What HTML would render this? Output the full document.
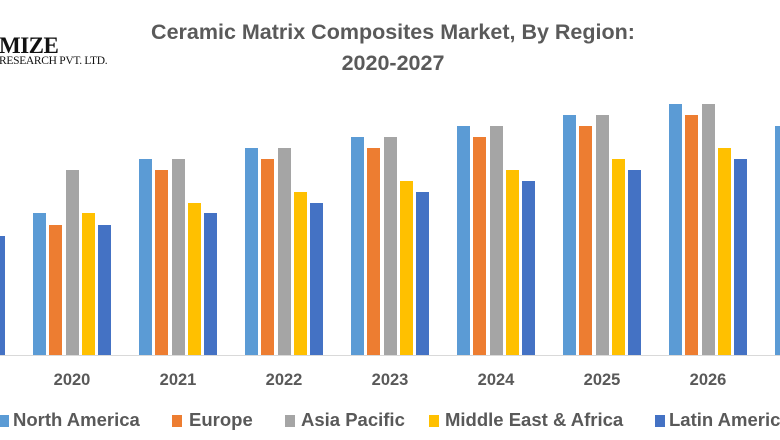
<!DOCTYPE html>
<html><head><meta charset="utf-8"><style>
body{margin:0;width:780px;height:440px;background:#fff;overflow:hidden;position:relative;font-family:"Liberation Sans",sans-serif}
.t{position:absolute;color:#595959;font-weight:bold;white-space:nowrap}
.y{font-size:16.5px;top:371px;width:80px;text-align:center}
.l{font-size:18.5px;top:409px}
.s{position:absolute;top:415px;width:10px;height:12px}
</style></head><body>
<div style="position:absolute;left:-1px;top:33px;font-family:'Liberation Serif',serif;font-weight:bold;font-size:23px;color:#111;letter-spacing:-0.5px">MIZE</div>
<div style="position:absolute;left:-1px;top:55px;font-family:'Liberation Serif',serif;font-size:11.5px;color:#111;letter-spacing:-0.3px">RESEARCH PVT. LTD.</div>
<div class="t" style="left:0;width:786px;text-align:center;top:17px;font-size:21.5px;line-height:31px;color:#5a5a5a;white-space:normal">Ceramic Matrix Composites Market, By Region:<br>2020-2027</div>
<svg width="780" height="440" style="position:absolute;left:0;top:0">
<line x1="0" y1="355.5" x2="780" y2="355.5" stroke="#d9d9d9" stroke-width="1"/>
<g id="bars"></g>
</svg>
<script>
var c=["#5B9BD5","#ED7D31","#A5A5A5","#FFC000","#4472C4"],off=[0,16,33,49,65];
var d=[[0,0,0,0,236],[213,225,170,213,225],[159,170,159,203,213],[148,159,148,192,203],[137,148,137,181,192],[126,137,126,170,181],[115,126,115,159,170],[104,115,104,148,159],[126,0,0,0,0]];
var g=document.getElementById('bars'),s='';
d.forEach(function(r,i){var x=-73+106*i;r.forEach(function(t,j){if(t)s+='<rect x="'+(x+off[j])+'" y="'+t+'" width="13" height="'+(355-t)+'" fill="'+c[j]+'"/>';});});
g.innerHTML=s;
</script>
<div class="t y" style="left:32px">2020</div>
<div class="t y" style="left:138px">2021</div>
<div class="t y" style="left:244px">2022</div>
<div class="t y" style="left:350px">2023</div>
<div class="t y" style="left:456px">2024</div>
<div class="t y" style="left:562px">2025</div>
<div class="t y" style="left:668px">2026</div>
<div class="s" style="left:0;width:9px;background:#5B9BD5"></div>
<div class="t l" style="left:13px">North America</div>
<div class="s" style="left:172px;background:#ED7D31"></div>
<div class="t l" style="left:189px">Europe</div>
<div class="s" style="left:285px;background:#A5A5A5"></div>
<div class="t l" style="left:301px">Asia Pacific</div>
<div class="s" style="left:429px;background:#FFC000"></div>
<div class="t l" style="left:445px">Middle East &amp; Africa</div>
<div class="s" style="left:655px;background:#4472C4"></div>
<div class="t l" style="left:669px">Latin America</div>
</body></html>
